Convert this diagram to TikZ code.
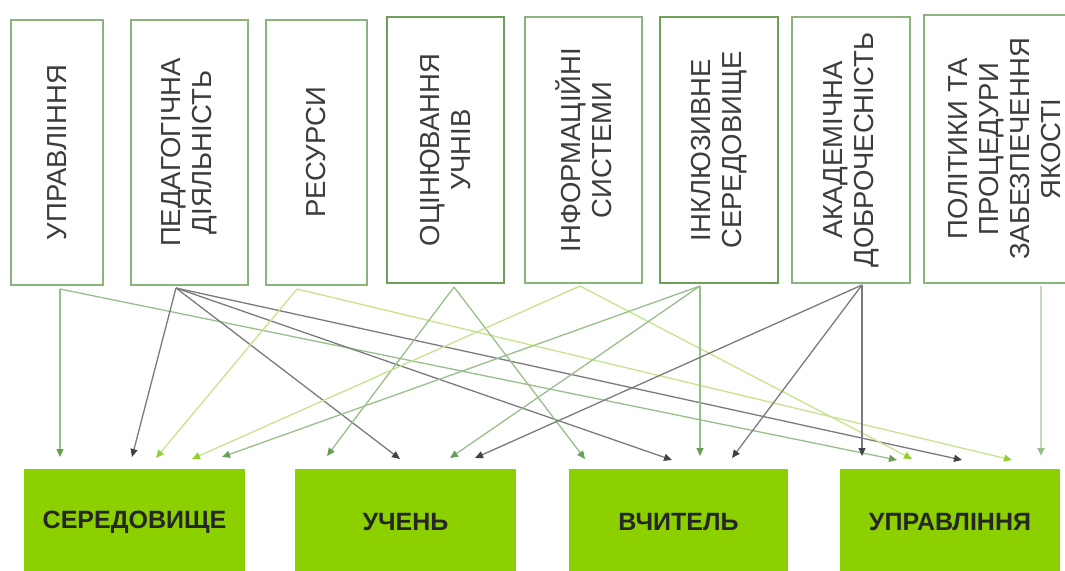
\documentclass[tikz,border=0pt]{standalone}
\usepackage{fontspec}
\setmainfont{Liberation Sans}
\usetikzlibrary{arrows.meta}
\definecolor{boxgreen}{HTML}{8AB47C}
\definecolor{boxdark}{HTML}{6FA05A}
\definecolor{fillgreen}{HTML}{8CD000}
\definecolor{lgray}{HTML}{7A7A80}
\definecolor{tgray}{HTML}{414146}
\definecolor{lgreen}{HTML}{98BF8B}
\definecolor{tgreen}{HTML}{6A9E55}
\definecolor{llime}{HTML}{C6E38E}
\definecolor{tlime}{HTML}{93CF2E}
\definecolor{lpale}{HTML}{C5D9BE}
\definecolor{txt}{HTML}{3C3C3C}
\begin{document}
\begin{tikzpicture}[x=1pt,y=-1pt,
  topbox/.style={draw=boxgreen, line width=2pt, fill=white, inner sep=0pt},
  toptext/.style={rotate=90, align=center, text=txt, inner sep=0pt,
    font=\fontsize{27.5}{31}\selectfont},
  botbox/.style={fill=fillgreen, inner sep=0pt, text=black!85,
    font=\fontsize{25}{28}\selectfont\bfseries},
  conn/.style={line width=1.3pt},
  cgray/.style={conn, draw=lgray, -{Triangle[length=8pt,width=7pt,color=tgray]}},
  cgreen/.style={conn, draw=lgreen, -{Triangle[length=8pt,width=7pt,color=tgreen]}},
  clime/.style={conn, draw=llime, -{Triangle[length=8pt,width=7pt,color=tlime]}},
  cpale/.style={line width=2pt, draw=lpale, -{Triangle[length=8pt,width=7pt,color=lgreen]}}
]
\useasboundingbox (0,0) rectangle (1065,570);

% top boxes
\node[topbox, minimum width=92pt, minimum height=265pt] (t1) at (57,152.5) {};
\node[topbox, minimum width=117pt, minimum height=265pt] (t2) at (189.5,152.5) {};
\node[topbox, minimum width=101pt, minimum height=265pt] (t3) at (316.5,152.5) {};
\node[topbox, draw=boxdark, minimum width=117pt, minimum height=266pt] (t4) at (445.5,150) {};
\node[topbox, minimum width=117pt, minimum height=266pt] (t5) at (583.5,150) {};
\node[topbox, draw=boxdark, minimum width=118pt, minimum height=266pt] (t6) at (719,150) {};
\node[topbox, minimum width=118pt, minimum height=266pt] (t7) at (851,150) {};
\node[topbox, minimum width=162pt, minimum height=268pt] (t8) at (1005,149) {};

\node[toptext] (l1) at (t1) {УПРАВЛІННЯ};
\node[toptext] (l2) at (t2) {ПЕДАГОГІЧНА\\ДІЯЛЬНІСТЬ};
\node[toptext] (l3) at (t3) {РЕСУРСИ};
\node[toptext] (l4) at (t4) {ОЦІНЮВАННЯ\\УЧНІВ};
\node[toptext] (l5) at (t5) {ІНФОРМАЦІЙНІ\\СИСТЕМИ};
\node[toptext] (l6) at (t6) {ІНКЛЮЗИВНЕ\\СЕРЕДОВИЩЕ};
\node[toptext] (l7) at (t7) {АКАДЕМІЧНА\\ДОБРОЧЕСНІСТЬ};
\node[toptext] (l8) at (t8) {ПОЛІТИКИ ТА\\ПРОЦЕДУРИ\\ЗАБЕЗПЕЧЕННЯ\\ЯКОСТІ};

% bottom boxes
\node[botbox, minimum width=221pt, minimum height=106pt] (b1) at (134.5,522) {СЕРЕДОВИЩЕ};
\node[botbox, minimum width=221pt, minimum height=106pt] (b2) at (405.5,522) {УЧЕНЬ};
\node[botbox, minimum width=219pt, minimum height=106pt] (b3) at (678.5,522) {ВЧИТЕЛЬ};
\node[botbox, minimum width=220pt, minimum height=106pt] (b4) at (950,522) {УПРАВЛІННЯ};

% source points
\coordinate (s1) at (60,289);
\coordinate (s2) at (176,288);
\coordinate (s3) at (297,289);
\coordinate (s4) at (454,287);
\coordinate (s5) at (580,286);
\coordinate (s6) at (700,286);
\coordinate (s7) at (862,285);
\coordinate (s8) at (1041,286);

% target points
\coordinate (e11) at (60,457);
\coordinate (e12) at (132,457);
\coordinate (e13) at (156,458);
\coordinate (e14) at (192,459);
\coordinate (e15) at (222,457);
\coordinate (e21) at (327,456);
\coordinate (e22) at (400,459);
\coordinate (e23) at (450,458);
\coordinate (e24) at (475,458);
\coordinate (e31) at (585,459);
\coordinate (e32) at (672,460);
\coordinate (e33) at (700,456);
\coordinate (e34) at (732,458);
\coordinate (e41) at (862,456);
\coordinate (e42) at (897,460);
\coordinate (e43) at (912,459);
\coordinate (e44) at (962,460);
\coordinate (e45) at (1012,460);
\coordinate (e46) at (1041,456);

% connectors
\draw[cgreen] (s1) -- (e11);
\draw[cgreen] (s1) -- (e42);
\draw[cgray] (s2) -- (e12);
\draw[cgray] (s2) -- (e22);
\draw[cgray] (s2) -- (e32);
\draw[cgray] (s2) -- (e44);
\draw[clime] (s3) -- (e13);
\draw[clime] (s3) -- (e45);
\draw[cgreen] (s4) -- (e21);
\draw[cgreen] (s4) -- (e31);
\draw[clime] (s5) -- (e14);
\draw[clime] (s5) -- (e43);
\draw[cgreen] (s6) -- (e15);
\draw[cgreen] (s6) -- (e23);
\draw[cgreen] (s6) -- (e33);
\draw[cgray] (s7) -- (e24);
\draw[cgray] (s7) -- (e34);
\draw[cgray] (s7) -- (e41);
\draw[cpale] (s8) -- (e46);
\end{tikzpicture}
\end{document}
